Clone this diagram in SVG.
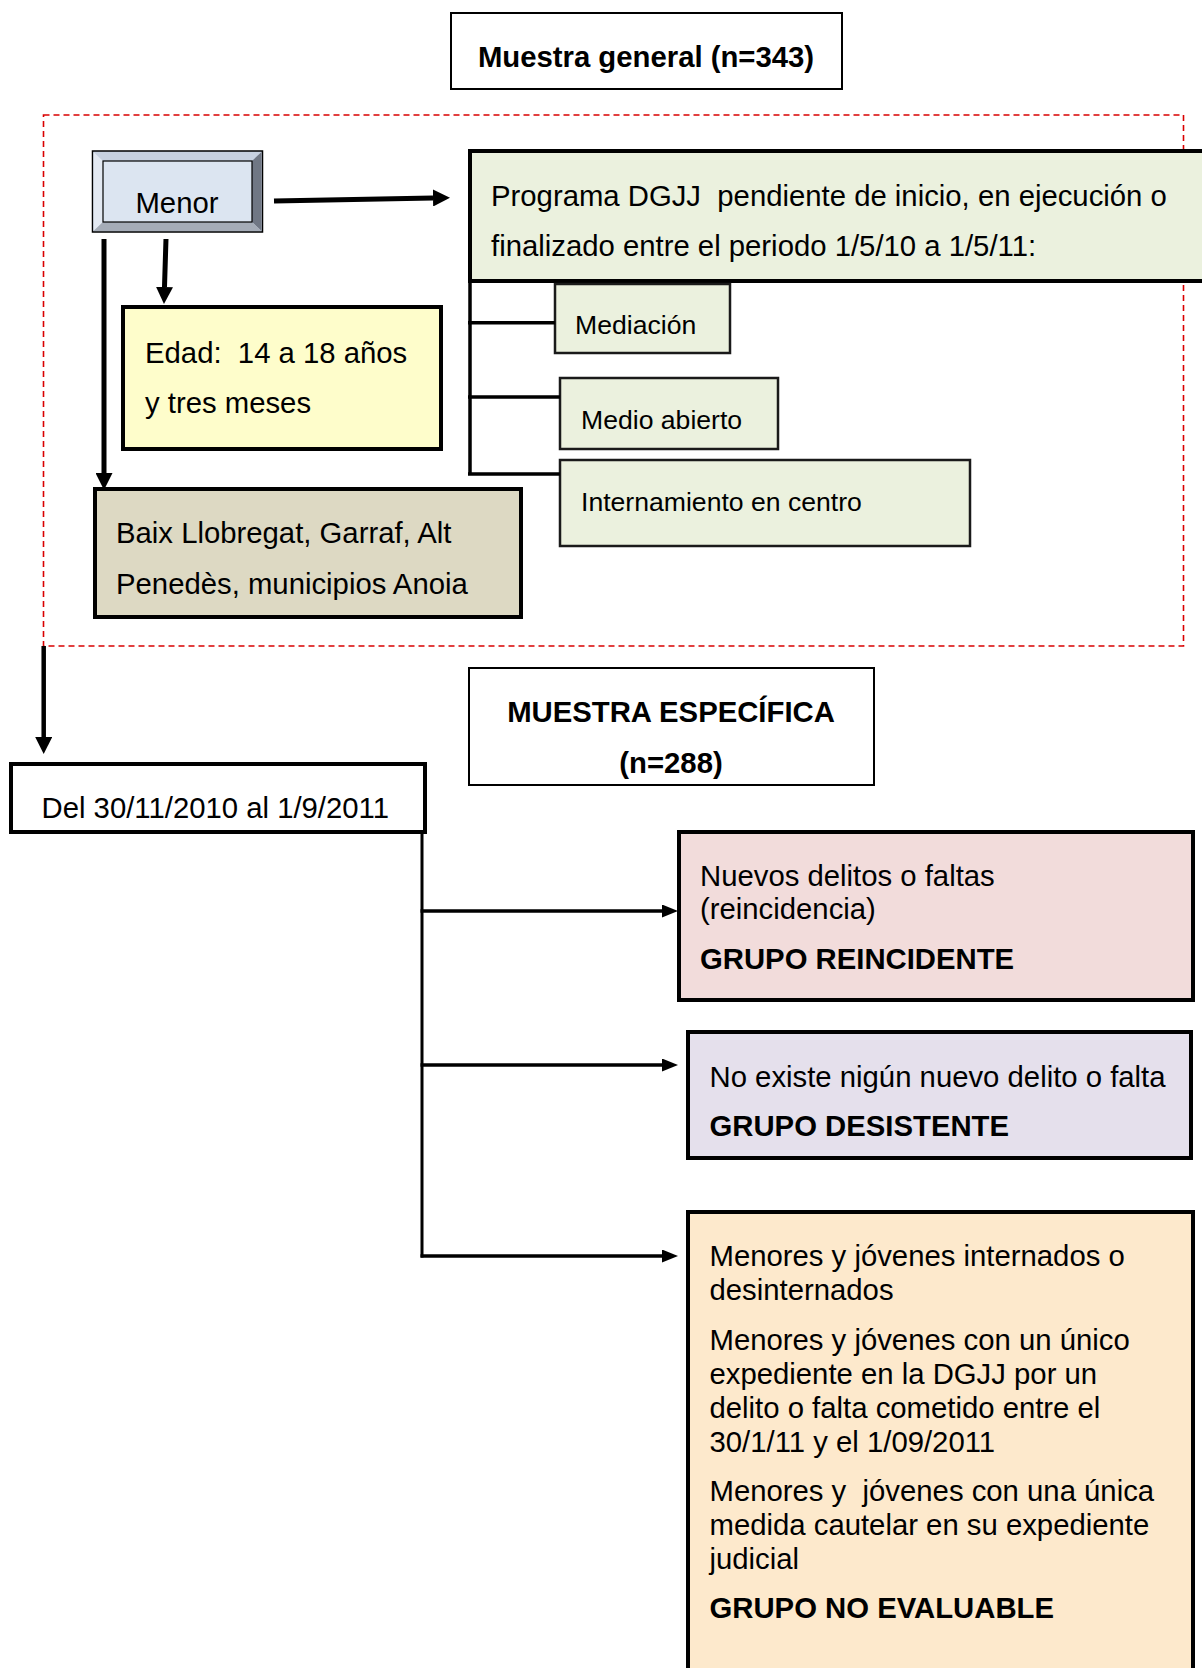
<svg xmlns="http://www.w3.org/2000/svg" width="1202" height="1668" viewBox="0 0 1202 1668">
<style>
text{font-family:"Liberation Sans",Arial,sans-serif;font-size:29.3px;fill:#000;white-space:pre}
.b{font-weight:bold}
.s{font-size:26.6px}
.thin{stroke:#000;stroke-width:2}
.mid{stroke:#1a1a1a;stroke-width:2.5}
.thick{stroke:#000;stroke-width:4}
.ln{stroke:#000;fill:none}
</style>
<defs>
<marker id="ah" viewBox="0 0 10 10" refX="0" refY="5" markerUnits="userSpaceOnUse" markerWidth="17" markerHeight="17" orient="auto"><path d="M0,0 L10,5 L0,10 z" fill="#000"/></marker>
<marker id="ahs" viewBox="0 0 10 10" refX="0" refY="5" markerUnits="userSpaceOnUse" markerWidth="16" markerHeight="13" orient="auto" preserveAspectRatio="none"><path d="M0,0 L10,5 L0,10 z" fill="#000"/></marker>
</defs>
<rect width="1202" height="1668" fill="#fff"/>

<g id="muestra-general">
<rect x="451" y="13" width="391" height="76" fill="#fff" class="thin"/>
<text x="646" y="66.5" text-anchor="middle" class="b">Muestra general (n=343)</text>
</g>

<g id="zona">
<rect x="43.5" y="115" width="1140" height="531" fill="none" stroke="#d90000" stroke-width="1.6" stroke-dasharray="6,4"/>
</g>

<g id="programa">
<rect x="470" y="151" width="745" height="130" fill="#ebf1de" class="thick"/>
<text x="491" y="206" xml:space="preserve">Programa DGJJ  pendiente de inicio, en ejecución o</text>
<text x="491" y="256">finalizado entre el periodo 1/5/10 a 1/5/11:</text>
</g>

<g id="menor">
<rect x="92.5" y="151" width="170" height="81" fill="#c7d1e0" stroke="#000" stroke-width="1.5"/>
<polygon points="93.5,152 103,161 103,222 93.5,231" fill="#e3e9f2"/>
<polygon points="261.5,152 252,161 252,222 261.5,231" fill="#707784"/>
<polygon points="93.5,231 103,222 252,222 261.5,231" fill="#a5acb7"/>
<rect x="103" y="161" width="149" height="61" fill="#dce5f1" stroke="#000" stroke-width="1.2"/>
<text x="177" y="212.5" text-anchor="middle">Menor</text>
</g>

<g id="edad">
<rect x="123" y="307" width="318" height="142" fill="#fefdcb" class="thick"/>
<text x="145" y="362.5" xml:space="preserve">Edad:  14 a 18 años</text>
<text x="145" y="412.5">y tres meses</text>
</g>

<g id="baix">
<rect x="95" y="489" width="426" height="128" fill="#ddd9c3" class="thick"/>
<text x="116" y="542.5">Baix Llobregat, Garraf, Alt</text>
<text x="116" y="593.5">Penedès, municipios Anoia</text>
</g>

<g id="mediacion">
<rect x="555" y="284" width="175" height="69" fill="#ebf1de" class="mid"/>
<text x="575" y="334" class="s">Mediación</text>
</g>

<g id="medio-abierto">
<rect x="560" y="378" width="218" height="71" fill="#ebf1de" class="mid"/>
<text x="581" y="429" class="s">Medio abierto</text>
</g>

<g id="internamiento">
<rect x="560" y="460" width="410" height="86" fill="#ebf1de" class="mid"/>
<text x="581" y="511" class="s">Internamiento en centro</text>
</g>

<g id="muestra-especifica">
<rect x="469" y="668" width="405" height="117" fill="#fff" class="thin"/>
<text x="671" y="721.5" text-anchor="middle" class="b">MUESTRA ESPECÍFICA</text>
<text x="671" y="772.5" text-anchor="middle" class="b">(n=288)</text>
</g>

<g id="periodo">
<rect x="11" y="764" width="414" height="68" fill="#fff" class="thick"/>
<text x="41.5" y="817.5">Del 30/11/2010 al 1/9/2011</text>
</g>

<g id="reincidente">
<rect x="679" y="832" width="514" height="168" fill="#f2dcdb" class="thick"/>
<text x="700" y="885.5">Nuevos delitos o faltas</text>
<text x="700" y="918.5">(reincidencia)</text>
<text x="700" y="968.5" class="b">GRUPO REINCIDENTE</text>
</g>

<g id="desistente">
<rect x="688" y="1032" width="503" height="126" fill="#e5e0ec" class="thick"/>
<text x="709.5" y="1086.5">No existe nigún nuevo delito o falta</text>
<text x="709.5" y="1135.5" class="b">GRUPO DESISTENTE</text>
</g>

<g id="no-evaluable">
<rect x="688" y="1212" width="505" height="470" fill="#fde9cc" class="thick"/>
<text x="709.5" y="1265.5">Menores y jóvenes internados o</text>
<text x="709.5" y="1299.5">desinternados</text>
<text x="709.5" y="1349.5">Menores y jóvenes con un único</text>
<text x="709.5" y="1383.5">expediente en la DGJJ por un</text>
<text x="709.5" y="1417.5">delito o falta cometido entre el</text>
<text x="709.5" y="1451.5">30/1/11 y el 1/09/2011</text>
<text x="709.5" y="1500.5" xml:space="preserve">Menores y  jóvenes con una única</text>
<text x="709.5" y="1534.5">medida cautelar en su expediente</text>
<text x="709.5" y="1568.5">judicial</text>
<text x="709.5" y="1617.5" class="b">GRUPO NO EVALUABLE</text>
</g>

<g id="connectors">
<path d="M274,201 L433,198" class="ln" stroke-width="5" marker-end="url(#ah)"/>
<path d="M166,239 L164.5,287" class="ln" stroke-width="5" marker-end="url(#ah)"/>
<path d="M104,239 L104,473" class="ln" stroke-width="5" marker-end="url(#ah)"/>
<path d="M43.7,646 L43.7,737" class="ln" stroke-width="4.5" marker-end="url(#ah)"/>
<path d="M470,281 V475.5 M468,322.7 H555 M468,397 H560 M468,474 H560" class="ln" stroke-width="3.5"/>
<path d="M422,832 V1257.5" class="ln" stroke-width="3"/>
<path d="M420.5,911 L662,911" class="ln" stroke-width="3.5" marker-end="url(#ahs)"/>
<path d="M420.5,1065 L662,1065" class="ln" stroke-width="3.5" marker-end="url(#ahs)"/>
<path d="M420.5,1256 L662,1256" class="ln" stroke-width="3.5" marker-end="url(#ahs)"/>
</g>
</svg>
